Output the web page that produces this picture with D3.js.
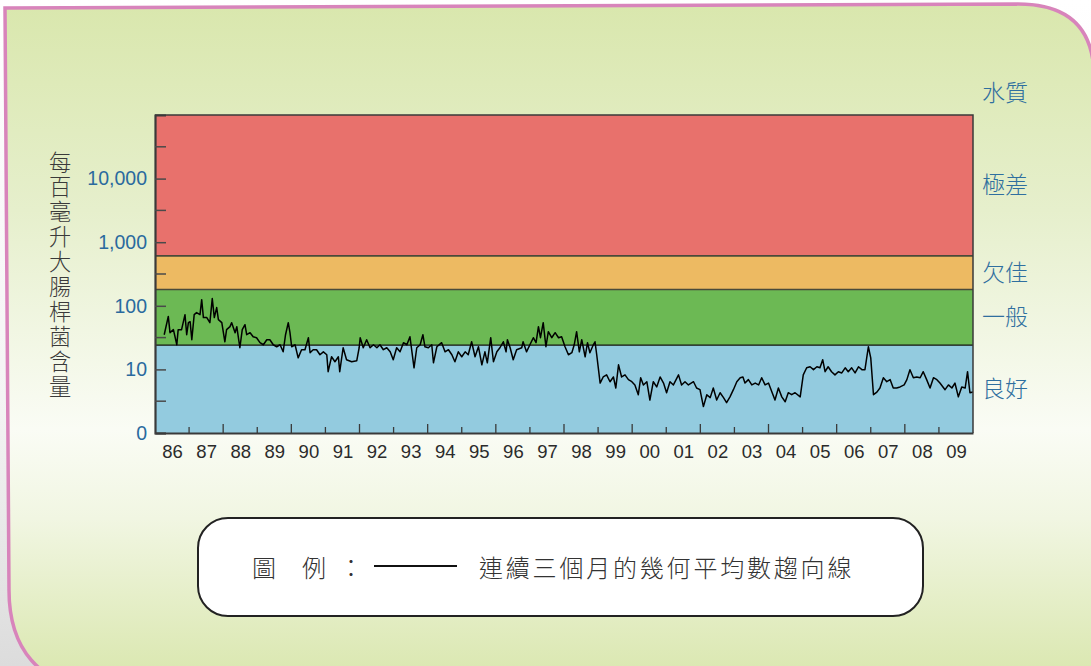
<!DOCTYPE html>
<html><head><meta charset="utf-8">
<script src="https://cdn.jsdelivr.net/npm/d3@7"></script>
<style>
body{margin:0;padding:0;background:#fff;}
svg{display:block;}
</style></head>
<body>
<svg id="chart" width="1091" height="666"></svg>
<script>
// ---------- data ----------
const yearLabels = ["86","87","88","89","90","91","92","93","94","95","96","97","98","99","00","01","02","03","04","05","06","07","08","09"];
const firstYear = 1986;
const yTickValues = [1, 10, 100, 1000, 10000];
const yTickLabels = ["0", "10", "100", "1,000", "10,000"];
const gradeNames = ["良好", "一般", "欠佳", "極差"];
const gradeLimits = [1, 24, 180, 610, 100000];
const gradeColors = ["#93cbdf", "#6cb954", "#edba62", "#e8716c"];
const yAxisTitle = "每百毫升大腸桿菌含量";
const rightTitle = "水質";
const legendLabel = "連續三個月的幾何平均數趨向線";
// [decimal year, E. coli count per 100 mL] (3-month geometric mean)
const trendSeries = [
[1986.27,35.1],[1986.39,68],[1986.44,37.8],[1986.54,42.2],[1986.64,24.4],[1986.68,42.2],[1986.78,42.2],[1986.88,72.6],[1986.93,35.1],[1986.98,54.3],
[1987.03,56.3],[1987.08,29.3],[1987.15,72.6],[1987.22,78.1],[1987.32,72.6],[1987.37,125],[1987.42,65.2],[1987.52,65.2],[1987.61,54.3],[1987.68,130],[1987.74,65.2],[1987.81,93.7],[1987.86,60.6],[1987.96,54.3],
[1988.05,27.2],[1988.10,42.2],[1988.20,47.0],[1988.25,54.3],[1988.35,37.8],[1988.40,47.0],[1988.49,21.9],[1988.56,42.2],[1988.64,50.5],[1988.69,35.1],[1988.79,37.8],[1988.88,32.7],[1988.98,31.5],
[1989.08,26.3],[1989.18,24.4],[1989.28,29.3],[1989.37,29.3],[1989.47,24.4],[1989.57,22.7],[1989.67,24.4],[1989.76,18.9],[1989.83,35.1],[1989.91,54.3],[1989.96,37.8],
[1990.01,22.7],[1990.11,24.4],[1990.20,15.2],[1990.30,20.4],[1990.40,20.4],[1990.50,31.5],[1990.55,18.3],[1990.64,20.4],[1990.74,20.4],[1990.84,17.0],[1990.94,18.9],
[1991.04,17.0],[1991.08,9.2],[1991.18,15.8],[1991.28,13.2],[1991.38,15.8],[1991.42,9.2],[1991.52,21.9],[1991.62,14.2],[1991.77,13.2],[1991.92,13.7],[1991.99,21.9],
[1992.02,31.5],[1992.11,21.9],[1992.21,29.3],[1992.31,21.9],[1992.41,24.4],[1992.51,21.9],[1992.60,24.4],[1992.70,20.4],[1992.80,21.9],[1992.90,18.9],[1992.99,14.2],
[1993.09,21.9],[1993.19,18.9],[1993.29,26.3],[1993.39,24.4],[1993.48,32.7],[1993.53,20.4],[1993.60,10.6],[1993.68,21.9],[1993.78,24.4],[1993.86,35.1],[1993.92,22.7],
[1994.02,21.9],[1994.12,24.4],[1994.17,12.7],[1994.27,22.7],[1994.41,26.3],[1994.51,18.9],[1994.61,20.4],[1994.71,17.0],[1994.80,13.2],[1994.90,18.9],
[1995.00,15.8],[1995.10,18.9],[1995.19,17.0],[1995.29,27.2],[1995.39,15.8],[1995.49,22.7],[1995.59,11.8],[1995.68,18.9],[1995.75,12.7],[1995.85,31.5],[1995.93,13.2],
[1996.03,18.9],[1996.12,21.9],[1996.22,27.2],[1996.30,18.9],[1996.34,29.3],[1996.42,21.9],[1996.51,14.2],[1996.61,20.4],[1996.76,21.9],[1996.80,27.2],[1996.90,18.9],
[1997.00,24.4],[1997.10,31.5],[1997.18,26.3],[1997.25,47.0],[1997.31,31.5],[1997.39,54.3],[1997.47,22.7],[1997.54,39.2],[1997.64,31.5],[1997.74,37.8],[1997.84,31.5],[1997.93,32.7],
[1998.03,22.7],[1998.13,17.0],[1998.23,18.3],[1998.30,24.4],[1998.37,39.2],[1998.45,18.9],[1998.52,29.3],[1998.62,15.8],[1998.69,26.3],[1998.76,18.3],[1998.86,24.4],[1998.91,27.2],[1998.96,17.0],
[1999.06,6.1],[1999.15,7.6],[1999.25,8.2],[1999.35,6.4],[1999.45,7.6],[1999.52,5.1],[1999.60,11.8],[1999.69,7.6],[1999.79,8.2],[1999.89,6.9],[1999.99,6.4],
[2000.08,5.7],[2000.18,4.0],[2000.25,7.4],[2000.33,5.7],[2000.43,6.4],[2000.52,3.3],[2000.62,6.4],[2000.72,5.3],[2000.82,7.6],[2000.92,6.1],
[2001.01,4.3],[2001.11,6.4],[2001.21,5.7],[2001.36,8.2],[2001.45,5.7],[2001.55,6.4],[2001.65,5.7],[2001.80,6.4],[2001.89,5.1],[2001.99,4.8],
[2002.09,2.6],[2002.19,4.0],[2002.29,3.6],[2002.38,5.1],[2002.48,3.3],[2002.58,4.3],[2002.68,3.6],[2002.77,3.0],[2002.87,3.7],[2002.97,4.8],
[2003.07,6.4],[2003.17,7.4],[2003.25,7.6],[2003.31,6.1],[2003.41,6.9],[2003.51,5.7],[2003.61,6.1],[2003.71,5.7],[2003.80,7.4],[2003.90,5.7],
[2004.00,6.1],[2004.10,4.4],[2004.19,3.3],[2004.29,5.1],[2004.39,3.7],[2004.49,3.1],[2004.58,4.3],[2004.68,4.0],[2004.78,4.3],[2004.93,3.7],
[2005.02,8.2],[2005.12,10.6],[2005.22,11.0],[2005.32,9.9],[2005.42,11.0],[2005.51,10.6],[2005.59,14.2],[2005.66,9.2],[2005.75,11.0],[2005.85,9.2],[2005.95,8.2],
[2006.05,9.2],[2006.15,8.8],[2006.25,10.6],[2006.34,9.2],[2006.44,10.6],[2006.54,8.8],[2006.64,11.0],[2006.74,9.9],[2006.83,9.9],[2006.93,22.7],
[2007.00,15.2],[2007.08,4.0],[2007.18,4.4],[2007.27,5.1],[2007.37,7.4],[2007.47,6.4],[2007.57,6.9],[2007.66,5.1],[2007.76,5.1],[2007.86,5.3],[2007.98,5.7],
[2008.06,6.9],[2008.15,9.9],[2008.25,7.4],[2008.35,7.6],[2008.45,7.4],[2008.54,9.2],[2008.64,6.9],[2008.74,5.1],[2008.84,7.4],[2008.94,6.9],
[2009.03,6.1],[2009.18,4.8],[2009.28,5.7],[2009.38,5.1],[2009.47,6.1],[2009.57,3.7],[2009.67,5.3],[2009.77,5.1],[2009.84,9.2],[2009.91,4.3],[2010.00,4.4]
];

// ---------- layout ----------
const W = 1091, H = 666;
const plot = {left: 155, right: 973, top: 115, bottom: 433};
const cjk = "'Noto Sans CJK TC','Noto Sans CJK SC',sans-serif";
const latin = "'Liberation Sans',Arial,sans-serif";

const svg = d3.select("#chart");
const defs = svg.append("defs");

const outerGrad = defs.append("linearGradient").attr("id","outerG").attr("x1",0).attr("y1",0).attr("x2",0).attr("y2",1);
outerGrad.append("stop").attr("offset","0%").attr("stop-color","#ffffff");
outerGrad.append("stop").attr("offset","60%").attr("stop-color","#f4f4f4");
outerGrad.append("stop").attr("offset","100%").attr("stop-color","#dcdcdc");

const frameGrad = defs.append("linearGradient").attr("id","frameG").attr("x1",0).attr("y1",0).attr("x2",0).attr("y2",1);
[["0%","#d9e7ad"],["30%","#e6efcc"],["62%","#fafcf5"],["75%","#f1f6e2"],["100%","#d8e6ab"]].forEach(s=>
  frameGrad.append("stop").attr("offset",s[0]).attr("stop-color",s[1]));

svg.append("rect").attr("width",W).attr("height",H).attr("fill","url(#outerG)");

svg.append("path")
  .attr("d","M5,8 L1018,4 Q1093,4 1094,75 L1094,690 L95,690 C40,684 9,650 9,590 Z")
  .attr("fill","url(#frameG)")
  .attr("stroke","#d884bb").attr("stroke-width",3.5);

// ---------- scales ----------
const x = d3.scaleLinear().domain([firstYear, firstYear + yearLabels.length]).range([plot.left, plot.right]);
const y = d3.scaleLog().domain([1, 100000]).range([plot.bottom, plot.top]);

// bands
const bands = gradeNames.map((n,i)=>({name:n, lo:gradeLimits[i], hi:gradeLimits[i+1], color:gradeColors[i]}));
svg.append("g").selectAll("rect").data(bands).join("rect")
  .attr("x", x(firstYear)).attr("width", x(firstYear+yearLabels.length)-x(firstYear))
  .attr("y", d=>y(d.hi)).attr("height", d=>y(d.lo)-y(d.hi))
  .attr("fill", d=>d.color);

// band boundary lines
svg.append("g").selectAll("line").data(gradeLimits.slice(1,4)).join("line")
  .attr("x1", plot.left).attr("x2", plot.right)
  .attr("y1", d=>y(d)).attr("y2", d=>y(d))
  .attr("stroke", (d,i)=> i===0 ? "#111" : "#4a4a3a").attr("stroke-width", (d,i)=> i===0 ? 1.3 : 1.6);

// trend line
const line = d3.line().x(d=>x(d[0])).y(d=>y(d[1]));
svg.append("path").datum(trendSeries)
  .attr("d", line).attr("fill","none").attr("stroke","#000").attr("stroke-width",1.5).attr("stroke-linejoin","round");

// frame of plot
svg.append("path")
  .attr("d", `M${plot.left},${plot.top} H${plot.right} V${plot.bottom}`)
  .attr("fill","none").attr("stroke","#3a3a3a").attr("stroke-width",1.5);

// y axis
const yAxis = d3.axisLeft(y).tickValues(yTickValues)
  .tickFormat((d,i)=>yTickLabels[i]).tickSize(-11).tickPadding(8);
const gy = svg.append("g").attr("transform",`translate(${plot.left},0)`).call(yAxis);
gy.select(".domain").attr("stroke","#3a3a3a").attr("stroke-width",2.2);
gy.selectAll(".tick line").attr("stroke","#4a4a4a").attr("stroke-width",1.5);
gy.selectAll(".tick text").attr("fill","#2a6a9e").attr("font-family",latin).attr("font-size",19.5);
// half-decade minor ticks
const minorY = yTickValues.map(v=>v*Math.sqrt(10));
svg.append("g").selectAll("line").data(minorY).join("line")
  .attr("x1",plot.left).attr("x2",plot.left+11)
  .attr("y1",d=>y(d)).attr("y2",d=>y(d))
  .attr("stroke","#4a4a4a").attr("stroke-width",1.5);

// x axis
const centers = yearLabels.map((l,i)=>firstYear+i+0.5);
const xAxis = d3.axisBottom(x).tickValues(centers).tickFormat((d,i)=>yearLabels[i]).tickSize(0).tickPadding(12);
const gx = svg.append("g").attr("transform",`translate(0,${plot.bottom})`).call(xAxis);
gx.select(".domain").attr("stroke","#3a3a3a").attr("stroke-width",2);
gx.selectAll(".tick text").attr("fill","#2b2b2b").attr("font-family",latin).attr("font-size",18.5);
// year boundary ticks (pointing up)
const yearBounds = d3.range(firstYear+1, firstYear+yearLabels.length);
svg.append("g").selectAll("line").data(yearBounds).join("line")
  .attr("x1",d=>x(d)).attr("x2",d=>x(d))
  .attr("y1",plot.bottom).attr("y2",d=> plot.bottom - (d%2===0 ? 9 : 6))
  .attr("stroke","#3a3a3a").attr("stroke-width",1.3);

// y axis title (vertical, single text element)
svg.append("text")
  .attr("x",60).attr("y",151)
  .style("writing-mode","vertical-rl").style("text-orientation","upright")
  .attr("letter-spacing",2.7)
  .attr("font-family",cjk).attr("font-weight",300).attr("font-size",22.2).attr("fill","#3a3a3a")
  .text(yAxisTitle);

// right labels
svg.append("text").attr("x",982).attr("y",91).attr("dominant-baseline","central")
  .attr("font-family",cjk).attr("font-weight",300).attr("font-size",23).attr("fill","#2f6f9f").text(rightTitle);
svg.append("g").selectAll("text").data(bands).join("text")
  .attr("x",982).attr("y",d=>(y(d.lo)+y(d.hi))/2 - 2)
  .attr("dominant-baseline","central")
  .attr("font-family",cjk).attr("font-weight",300).attr("font-size",23).attr("fill","#2f6f9f")
  .text(d=>d.name);

// legend box
svg.append("rect").attr("x",198).attr("y",518).attr("width",725).attr("height",98).attr("rx",30).attr("ry",30)
  .attr("fill","#fff").attr("stroke","#222").attr("stroke-width",2);
const lg = svg.append("g").attr("font-family",cjk).attr("font-weight",300).attr("font-size",24).attr("fill","#333");
lg.append("text").attr("x",252).attr("y",566).attr("dominant-baseline","central").text("圖");
lg.append("text").attr("x",302).attr("y",566).attr("dominant-baseline","central").text("例");
lg.append("text").attr("x",339).attr("y",566).attr("dominant-baseline","central").text("：");
svg.append("line").attr("x1",374).attr("x2",457).attr("y1",566).attr("y2",566).attr("stroke","#111").attr("stroke-width",2);
lg.append("text").attr("x",479).attr("y",566).attr("dominant-baseline","central")
  .attr("letter-spacing",2.8).text(legendLabel);
</script>
</body></html>
